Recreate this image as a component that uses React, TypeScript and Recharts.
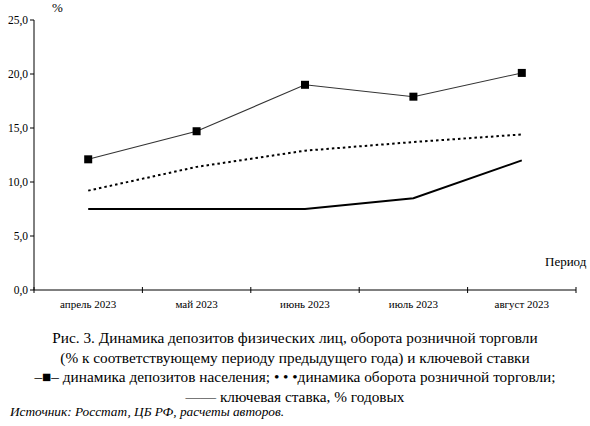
import React from "react";
import { LineChart, Line, XAxis, YAxis } from "recharts";

const categories = ["апрель 2023", "май 2023", "июнь 2023", "июль 2023", "август 2023"];
const deposits = [12.1, 14.7, 19.0, 17.9, 20.1];
const retail = [9.2, 11.4, 12.9, 13.7, 14.4];
const keyRate = [7.5, 7.5, 7.5, 8.5, 12.0];
const yTicks = [0, 5, 10, 15, 20, 25];

const data = categories.map((c, i) => ({
  name: c,
  deposits: deposits[i],
  retail: retail[i],
  keyRate: keyRate[i],
}));

const FONT = "Liberation Serif";

const SquareDot = (props: any) => {
  const { cx, cy } = props;
  if (cx == null || cy == null) return null;
  return <rect x={cx - 4} y={cy - 4} width={8} height={8} fill="#000" />;
};

const XTick = (props: any) => {
  const { x, y, payload, index, visibleTicksCount } = props;
  const off = payload && payload.offset ? payload.offset : 54.2;
  const axisY = y - 8;
  const isLast = index === (visibleTicksCount ?? categories.length) - 1;
  return (
    <g>
      <line x1={x - off} x2={x - off} y1={axisY - 3} y2={axisY + 3} stroke="#000" />
      {isLast && <line x1={x + off} x2={x + off} y1={axisY - 3} y2={axisY + 3} stroke="#000" />}
      <text x={x} y={axisY + 18} textAnchor="middle" fontFamily={FONT} fontSize={11} fill="#000">
        {payload.value}
      </text>
    </g>
  );
};

export default function App() {
  return (
    <div style={{ position: "absolute", left: 0, top: 0, width: 590, height: 426, background: "#fff", fontFamily: FONT }}>
      <LineChart width={590} height={310} data={data} margin={{ top: 20, right: 14, bottom: 0, left: 0 }}>
        <XAxis
          dataKey="name"
          scale="band"
          height={20}
          axisLine={{ stroke: "#000" }}
          tickLine={false}
          interval={0}
          tick={<XTick />}
        />
        <YAxis
          width={34}
          domain={[0, 25]}
          ticks={yTicks}
          axisLine={{ stroke: "#000" }}
          tickLine={{ stroke: "#000" }}
          tickSize={4}
          tickFormatter={(v: number) => v.toFixed(1).replace(".", ",")}
          tick={{ fontFamily: FONT, fontSize: 11.5, fill: "#000" }}
        />
        <Line
          dataKey="deposits"
          stroke="#333"
          strokeWidth={1.1}
          dot={<SquareDot />}
          activeDot={false}
          isAnimationActive={false}
        />
        <Line
          dataKey="retail"
          stroke="#000"
          strokeWidth={2}
          strokeDasharray="2.5 3"
          dot={false}
          activeDot={false}
          isAnimationActive={false}
        />
        <Line
          dataKey="keyRate"
          stroke="#000"
          strokeWidth={2}
          dot={false}
          activeDot={false}
          isAnimationActive={false}
        />
      </LineChart>
      <div style={{ position: "absolute", left: 52, top: 0, fontSize: 13 }}>%</div>
      <div style={{ position: "absolute", left: 545, top: 254, fontSize: 13 }}>Период</div>
      <div
        style={{
          position: "absolute",
          left: 0,
          top: 328,
          width: 590,
          textAlign: "center",
          fontSize: 15.3,
          lineHeight: "19.5px",
        }}
      >
        <div>Рис. 3. Динамика депозитов физических лиц, оборота розничной торговли</div>
        <div>(% к соответствующему периоду предыдущего года) и ключевой ставки</div>
        <div>–■– динамика депозитов населения; • • •динамика оборота розничной торговли;</div>
        <div>—— ключевая ставка, % годовых</div>
      </div>
      <div style={{ position: "absolute", left: 10, top: 404, fontSize: 13.3, fontStyle: "italic" }}>
        Источник: Росстат, ЦБ РФ, расчеты авторов.
      </div>
    </div>
  );
}
